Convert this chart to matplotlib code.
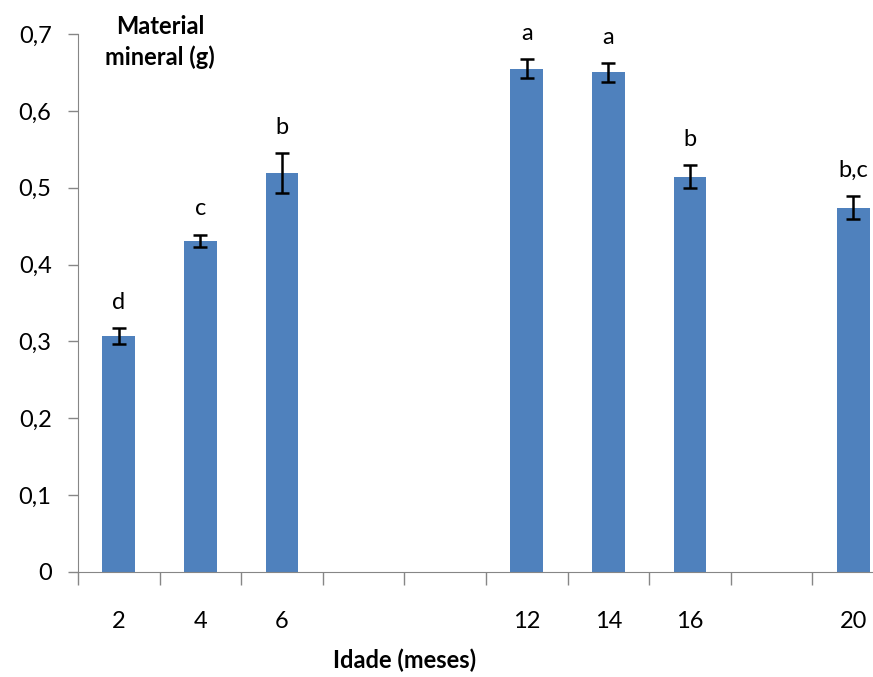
import matplotlib.pyplot as plt
import numpy as np

plt.rcParams["font.family"] = ["Lato", "DejaVu Sans"]

# Age slots on the category axis (months); empty slots stay blank
slots = [2, 4, 6, 8, 10, 12, 14, 16, 18, 20]
ages = [2, 4, 6, 12, 14, 16, 20]
mineral = [0.307, 0.431, 0.519, 0.655, 0.650, 0.514, 0.474]
err = [0.010, 0.008, 0.026, 0.012, 0.012, 0.015, 0.015]
letters = ["d", "c", "b", "a", "a", "b", "b,c"]

pos = np.array([slots.index(a) for a in ages])

fig = plt.figure(figsize=(8.73, 6.77), dpi=100)
ax = fig.add_axes([78 / 873, 105 / 677, 816 / 873, 538 / 677])

ax.bar(pos, mineral, 0.4, color="#4F81BD", yerr=err, ecolor="black",
       capsize=5, error_kw={"elinewidth": 1.8, "capthick": 1.8})

# significance letters above each bar
for x, v, e, t in zip(pos, mineral, err, letters):
    ax.text(x, v + e + 0.02, t, ha="center", va="bottom", fontsize=17)

ax.set_xlim(-0.5, len(slots) - 0.5)
ax.set_ylim(0, 0.7)
ax.set_yticks(np.arange(0, 0.71, 0.1))
ax.set_yticklabels(["0" if i == 0 else f"0,{i}" for i in range(8)])

ax.set_xticks(pos)
ax.set_xticklabels([str(a) for a in ages])
ax.set_xticks(np.arange(-0.5, len(slots), 1.0), minor=True)
ax.tick_params(axis="x", which="major", length=0, pad=28, labelsize=17)
ax.tick_params(axis="x", which="minor", length=9, color="#868686", width=1)
ax.tick_params(axis="y", length=7, color="#868686", width=1, pad=12, labelsize=17)

for s in ["top", "right"]:
    ax.spines[s].set_visible(False)
for s in ["left", "bottom"]:
    ax.spines[s].set_color("#868686")

fig.text(160 / 873, 1 - 42 / 677, "Material\nmineral (g)", ha="center", va="center",
         fontsize=17, fontweight="bold", linespacing=1.4)
fig.text(405 / 873, 1 - 660 / 677, "Idade (meses)", ha="center", va="center",
         fontsize=17, fontweight="bold")

fig.savefig("out.png", dpi=100)
